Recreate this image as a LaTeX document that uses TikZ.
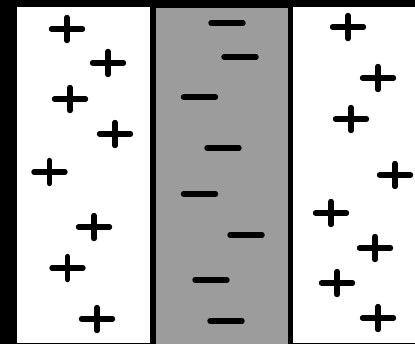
\documentclass[tikz,border=0pt]{standalone}
\definecolor{plategray}{RGB}{156,156,156}
\tikzset{
  signline/.style={line width=2.7pt, line cap=round, black},
  plussign/.pic={\draw[signline] (-15.5,0) -- (15.5,0) (0,-11.5) -- (0,11.5);},
  minussign/.pic={\draw[signline] (-16,0) -- (16,0);},
  whitezone/.style={fill=white},
  grayzone/.style={fill=plategray}
}
\begin{document}
\begin{tikzpicture}[x=0.5pt,y=-0.5pt]
  \useasboundingbox (0,0) rectangle (415,344);
  \fill[black] (0,0) rectangle (415,344);
  \fill[whitezone] (17,6.5) rectangle (150,342.5);
  \fill[grayzone] (155.5,7.5) rectangle (287.5,344);
  \fill[whitezone] (293,6.5) rectangle (415,342.5);
  \foreach \px/\py in {67/29,108/63,70/99,115/134,49.5/172,94/227,67.5/268,97/319,
                       348/27,378/78,351/119,395/175,331/213,375/248,337/283,378/318}
    \pic at (\px,\py) {plussign};
  \foreach \mx/\my in {227/23,240/57,199.5/97,223/148,199.5/194,246/235,211/280,226/321}
    \pic at (\mx,\my) {minussign};
\end{tikzpicture}
\end{document}
